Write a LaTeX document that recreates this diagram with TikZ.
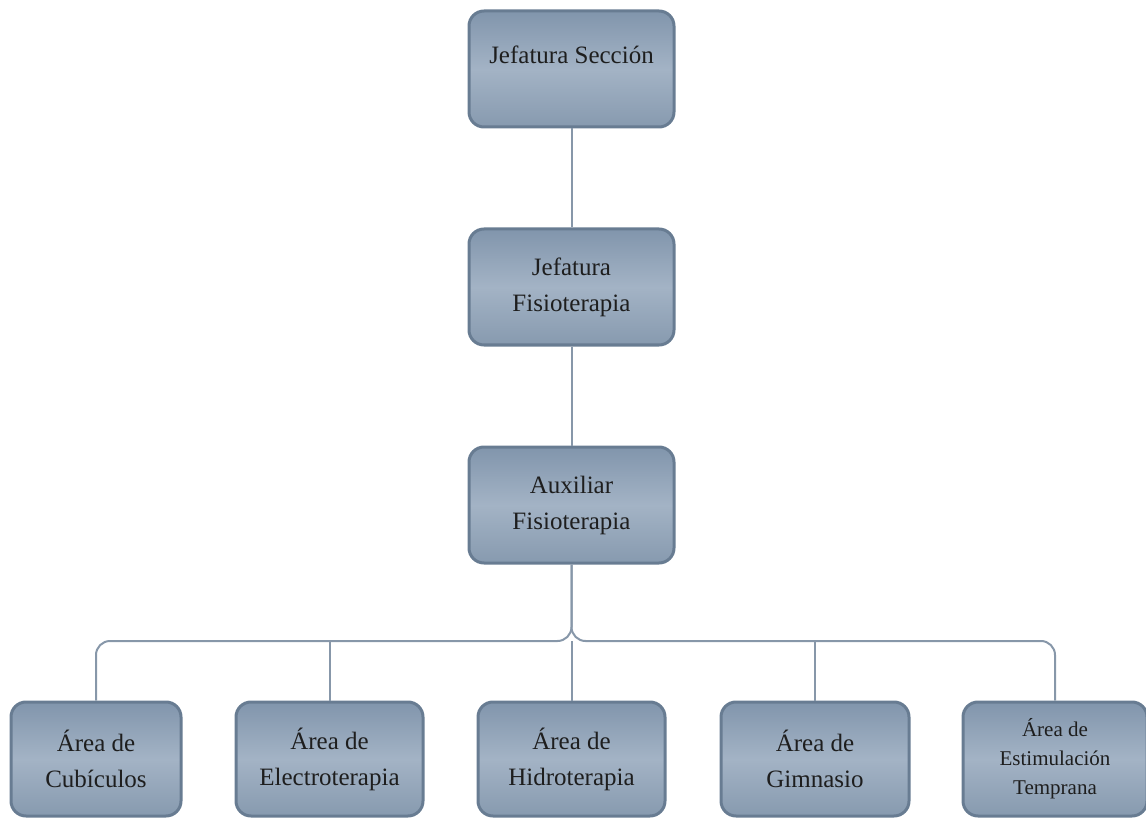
\documentclass[tikz,border=0pt]{standalone}
\usepackage{fontspec}
\setmainfont{Liberation Serif}
\definecolor{boxtop}{HTML}{8195AC}
\definecolor{boxmid}{HTML}{A3B3C5}
\definecolor{boxbot}{HTML}{879AAF}
\definecolor{boxline}{HTML}{687C92}
\definecolor{conn}{HTML}{8797A9}
\definecolor{txt}{HTML}{1E1E1E}
\tikzset{
  orgbox/.style={rectangle, rounded corners=15pt, draw=boxline, line width=3pt,
    top color=boxtop, bottom color=boxbot, middle color=boxmid,
    minimum width=205pt, minimum height=116pt, align=center, text=txt,
    font=\fontsize{25}{36}\selectfont, inner sep=0pt},
  lowbox/.style={orgbox, minimum height=114pt},
  link/.style={draw=conn, line width=2pt, rounded corners=14pt}
}
\begin{document}
\begin{tikzpicture}[x=1pt,y=-1pt]
\useasboundingbox (0,0) rectangle (1146,818);
\node[orgbox] (jsec) at (571.5,69) {};
\node[font=\fontsize{25}{36}\selectfont, text=txt] (jsect) at (571.5,55) {Jefatura Sección};
\node[orgbox] (jfis) at (571.5,287) {Jefatura\\Fisioterapia};
\node[orgbox] (aux) at (571.5,505) {Auxiliar\\Fisioterapia};
\node[lowbox, minimum width=170pt] (cub) at (96,759) {Área de\\Cubículos};
\node[lowbox, minimum width=187pt] (ele) at (329.5,759) {Área de\\Electroterapia};
\node[lowbox, minimum width=187pt] (hid) at (571.5,759) {Área de\\Hidroterapia};
\node[lowbox, minimum width=188pt] (gim) at (815,759) {Área de\\Gimnasio};
\node[lowbox, minimum width=184pt, font=\fontsize{21}{29}\selectfont] (est) at (1055,759) {Área de\\Estimulación\\Temprana};
\coordinate (bus) at (571.5,641);
\draw[link] (jsec.south) -- (jfis.north);
\draw[link] (jfis.south) -- (aux.north);
\draw[link] (aux.south) -- (bus) -| (cub.north);
\draw[link] (aux.south) -- (bus) -| (est.north);
\draw[link] (bus) -- (hid.north);
\draw[link] (ele.north) -- (ele.north |- bus);
\draw[link] (gim.north) -- (gim.north |- bus);
\end{tikzpicture}
\end{document}
